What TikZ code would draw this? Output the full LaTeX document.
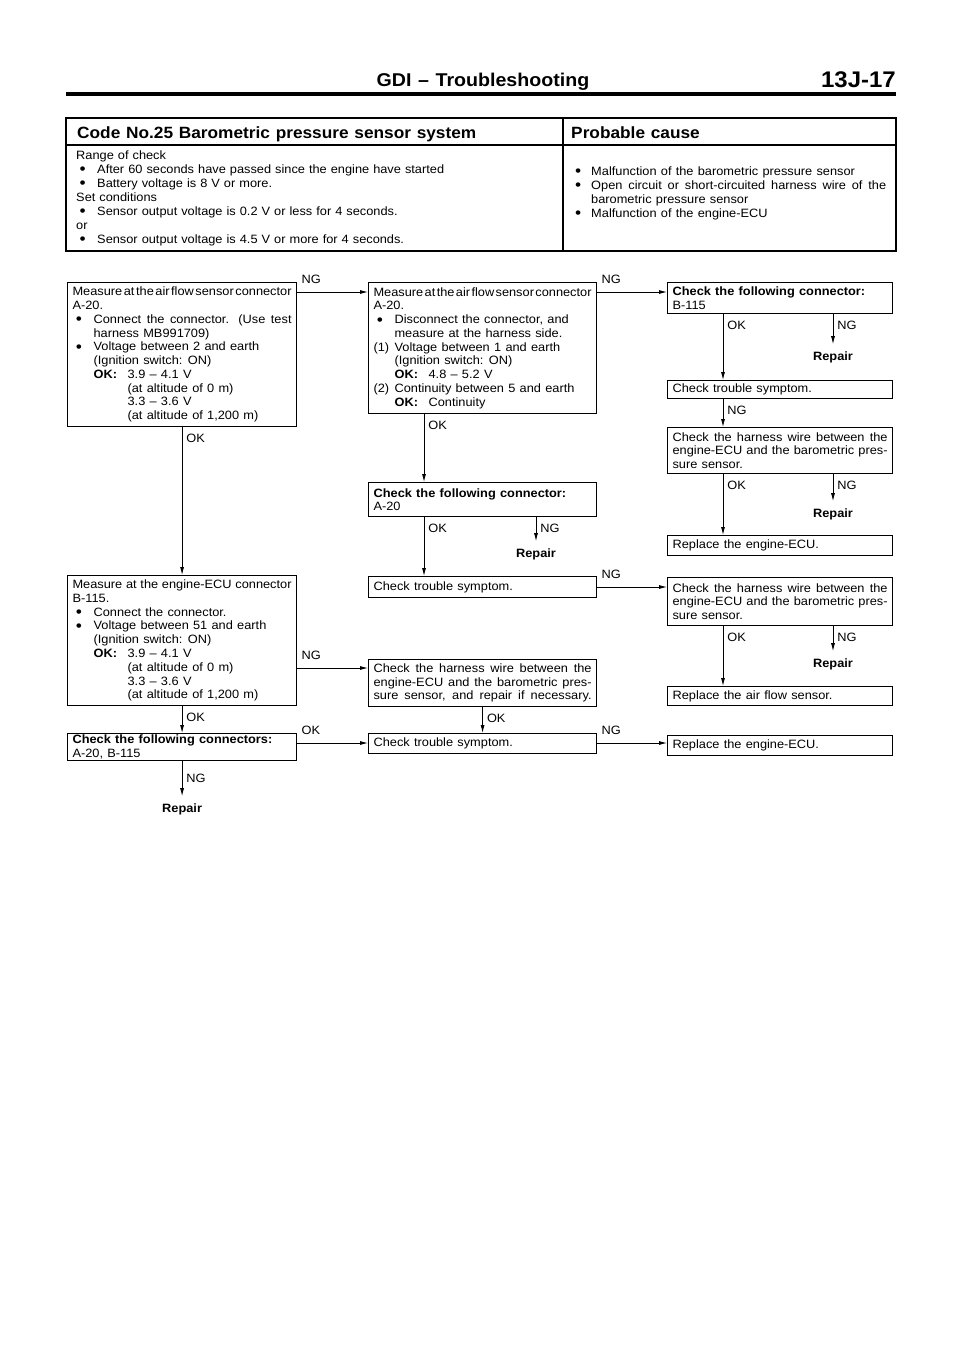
\documentclass[tikz,border=0pt]{standalone}
\usepackage{fontspec}
\setmainfont{Liberation Sans}[FakeStretch=1.06,WordSpace=1.2]
\usetikzlibrary{arrows.meta,positioning}

\newcommand{\boxfont}{\fontsize{10.3}{11.75}\selectfont\hyphenpenalty=10000\exhyphenpenalty=10000}
\newcommand{\tabfont}{\fontsize{10.3}{11.95}\selectfont\hyphenpenalty=10000\exhyphenpenalty=10000}
\newcommand{\headfont}{\fontsize{15.8}{19}\selectfont\bfseries}
\newcommand{\pagefont}{\fontsize{19.3}{23}\selectfont\bfseries}
\newcommand{\titlefont}{\fontsize{13.9}{16}\selectfont\bfseries}
\newcommand{\bigdot}{\raisebox{-1.2pt}{\fontsize{14}{14}\selectfont •}}
\newcommand{\itm}[2]{\par\hangindent=#1\hangafter=1\noindent\makebox[#1][l]{#2}}
\newcommand{\bul}{\itm{6.3mm}{\hspace{1mm}\bigdot}}
\newcommand{\okk}{\makebox[10.2mm][l]{\textbf{OK:}}}
\newcommand{\altind}{\hspace*{10.2mm}}
\newcommand{\tightsp}[1]{{\spaceskip=0.08em plus 0.3em\relax #1}}
\newcommand{\ecu}{\mbox{engine-ECU}}

\begin{document}
\begin{tikzpicture}[x=0.3mm, y=-0.3mm,
    box/.style={draw, line width=1pt, anchor=north west, align=justify, font=\boxfont,
      inner xsep=1.5mm, inner ysep=0.4mm, minimum height=#1},
    colA/.style={text width=65.7mm},
    colB/.style={text width=65.4mm},
    colC/.style={text width=64.5mm},
    arr/.style={line width=0.7pt, -{Latex[length=2.4mm,width=1.2mm]}},
    lv/.style={font=\boxfont, anchor=north west, inner xsep=1.2mm, inner ysep=2mm},
    lh/.style={font=\boxfont, anchor=south west, inner xsep=1.2mm, inner ysep=2.3mm},
    rep/.style={font=\boxfont\bfseries, anchor=north, inner xsep=0pt, inner ysep=2.3mm}]
  % Page
  \fill[white] (0,0) rectangle (960,1358);
  \useasboundingbox (0,0) rectangle (960,1358);
  % Header
  \node[font=\headfont, anchor=base, inner sep=0] (hdr) at (483,86.5) {GDI – Troubleshooting};
  \node[font=\pagefont, anchor=base east, inner sep=0] (pgno) at (896,87) {13J-17};
  \draw[line width=1.3mm] (66,94) -- (896,94);
  % Table
  \draw[line width=1.4pt] (66,118) rectangle (896,251);
  \draw[line width=1.4pt] (66,145) -- (896,145);
  \draw[line width=1.4pt] (563,118) -- (563,251);
  \node[font=\titlefont, anchor=base west, inner sep=0] (code) at (77,138) {Code No.25 Barometric pressure sensor system};
  \node[font=\titlefont, anchor=base west, inner sep=0] (cause) at (571,138) {Probable cause};
  \node[font=\tabfont, anchor=base west, text width=141mm, align=left, inner sep=0] (rng) at (76,159.3)
    {Range of check
     \bul After 60 seconds have passed since the engine have started
     \bul Battery voltage is 8 V or more.
     \par Set conditions
     \bul Sensor output voltage is 0.2 V or less for 4 seconds.
     \par or
     \bul Sensor output voltage is 4.5 V or more for 4 seconds.\par};
  \node[font=\tabfont, anchor=base west, text width=93.3mm, align=justify, inner sep=0] (causes) at (575,161.3)
    {\itm{4.8mm}{\bigdot}Malfunction of the barometric pressure sensor
     \itm{4.8mm}{\bigdot}Open circuit or \mbox{short-circuited} harness wire of the\linebreak barometric pressure sensor
     \itm{4.8mm}{\bigdot}Malfunction of the \ecu\par};
  % Left column
  \node[box=43.2mm, colA] (MA) at (67,282)
    {\tightsp{Measure at the air flow sensor connector}\linebreak A-20.
     \bul Connect the connector. (Use test\linebreak harness MB991709)
     \bul Voltage between 2 and earth\newline (Ignition switch: ON)\newline
     \okk 3.9 – 4.1 V\newline \altind(at altitude of 0 m)\newline
     \altind 3.3 – 3.6 V\newline \altind(at altitude of 1,200 m)\par};
  \node[box=39mm, colA] (ME) at (67,575)
    {Measure at the \ecu{} connector\linebreak B-115.
     \bul Connect the connector.
     \bul Voltage between 51 and earth\newline (Ignition switch: ON)\newline
     \okk 3.9 – 4.1 V\newline \altind(at altitude of 0 m)\newline
     \altind 3.3 – 3.6 V\newline \altind(at altitude of 1,200 m)\par};
  \node[box=8.1mm, colA] (CC) at (67,733)
    {\textbf{Check the following connectors:}\newline A-20, B-115};
  \node[rep, below=10.5mm of CC.south] (rep4) {Repair};
  % Middle column
  \node[box=39.3mm, colB] (MB) at (368,282)
    {\tightsp{Measure at the air flow sensor connector}\linebreak A-20.
     \bul Disconnect the connector, and\newline measure at the harness side.
     \itm{6.3mm}{(1)}Voltage between 1 and earth\newline (Ignition switch: ON)\newline \okk 4.8 – 5.2 V
     \itm{6.3mm}{(2)}Continuity between 5 and earth\newline \okk Continuity\par};
  \node[box=10.2mm, colB] (CA) at (368,482)
    {\textbf{Check the following connector:}\newline A-20};
  \node[box=6.3mm, colB] (TS2) at (368,576) {Check trouble symptom.};
  \node[box=14.1mm, colB] (HW3) at (368,659)
    {\parfillskip=0pt Check the harness wire between the\linebreak \ecu{} and the barometric pres-\linebreak sure sensor, and repair if necessary.\par};
  \node[box=6mm, colB] (TS3) at (368,733) {Check trouble symptom.};
  % Right column
  \node[box=9.3mm, colC] (CB) at (667,282)
    {\textbf{Check the following connector:}\newline B-115};
  \node[box=5.4mm, colC] (TS1) at (667,380) {Check trouble symptom.};
  \node[box=13.8mm, colC] (HW1) at (667,427)
    {Check the harness wire between the\linebreak \ecu{} and the barometric pres-\linebreak sure sensor.};
  \node[box=6mm, colC] (RE1) at (667,535) {Replace the \ecu.};
  \node[box=14.4mm, colC] (HW2) at (667,577)
    {Check the harness wire between the\linebreak \ecu{} and the barometric pres-\linebreak sure sensor.};
  \node[box=5.7mm, colC] (RA) at (667,686) {Replace the air flow sensor.};
  \node[box=6mm, colC] (RE2) at (667,735) {Replace the \ecu.};
  % Branch points
  \coordinate (mbok) at ([xshift=16.8mm]MB.south west);
  \coordinate (caok) at ([xshift=16.8mm]CA.south west);
  \coordinate (cang) at ([xshift=50.4mm]CA.south west);
  \coordinate (cbok) at ([xshift=16.8mm]CB.south west);
  \coordinate (cbng) at ([xshift=49.8mm]CB.south west);
  \coordinate (ts1) at ([xshift=16.8mm]TS1.south west);
  \coordinate (h1ok) at ([xshift=16.8mm]HW1.south west);
  \coordinate (h1ng) at ([xshift=49.8mm]HW1.south west);
  \coordinate (h2ok) at ([xshift=16.8mm]HW2.south west);
  \coordinate (h2ng) at ([xshift=49.8mm]HW2.south west);
  \node[rep, below=7.2mm of cang] (rep3) {Repair};
  \node[rep, below=9mm of cbng] (rep1) {Repair};
  \node[rep, below=8.1mm of h1ng] (rep2) {Repair};
  \node[rep, below=7.5mm of h2ng] (rep5) {Repair};
  % Vertical links
  \draw[arr] (MA.south) -- (ME.north) node[lv, pos=0] {OK};
  \draw[arr] (ME.south) -- (CC.north) node[lv, pos=0] {OK};
  \draw[arr] (CC.south) -- (rep4.north) node[lv, pos=.5, anchor=west, inner ysep=0pt] {NG};
  \draw[arr] (mbok) -- (mbok |- CA.north) node[lv, pos=0] {OK};
  \draw[arr] (caok) -- (caok |- TS2.north) node[lv, pos=0] {OK};
  \draw[arr] (cang) -- (rep3.north) node[lv, pos=0] {NG};
  \draw[arr] (HW3.south) -- (TS3.north) node[lv, pos=0] {OK};
  \draw[arr] (cbok) -- (cbok |- TS1.north) node[lv, pos=0] {OK};
  \draw[arr] (cbng) -- (rep1.north) node[lv, pos=0] {NG};
  \draw[arr] (ts1) -- (ts1 |- HW1.north) node[lv, pos=0] {NG};
  \draw[arr] (h1ok) -- (h1ok |- RE1.north) node[lv, pos=0] {OK};
  \draw[arr] (h1ng) -- (rep2.north) node[lv, pos=0] {NG};
  \draw[arr] (h2ok) -- (h2ok |- RA.north) node[lv, pos=0] {OK};
  \draw[arr] (h2ng) -- (rep5.north) node[lv, pos=0] {NG};
  % Horizontal links
  \draw[arr] ([yshift=-3mm]MA.north east) -- ([yshift=-3mm]MB.north west) node[lh, pos=0] {NG};
  \draw[arr] ([yshift=-3mm]MB.north east) -- ([yshift=-3mm]CB.north west) node[lh, pos=0] {NG};
  \coordinate (t2) at ([yshift=-3.3mm]TS2.north east);
  \draw[arr] (t2) -- (t2 -| HW2.west) node[lh, pos=0] {NG};
  \coordinate (h3) at ([yshift=-2.7mm]HW3.north west);
  \draw[arr] (h3 -| ME.east) -- (h3) node[lh, pos=0] {NG};
  \coordinate (c3) at ([yshift=-3mm]CC.north east);
  \draw[arr] (c3) -- (c3 -| TS3.west) node[lh, pos=0] {OK};
  \coordinate (t3) at ([yshift=-3mm]TS3.north east);
  \draw[arr] (t3) -- (t3 -| RE2.west) node[lh, pos=0] {NG};
\end{tikzpicture}
\end{document}
